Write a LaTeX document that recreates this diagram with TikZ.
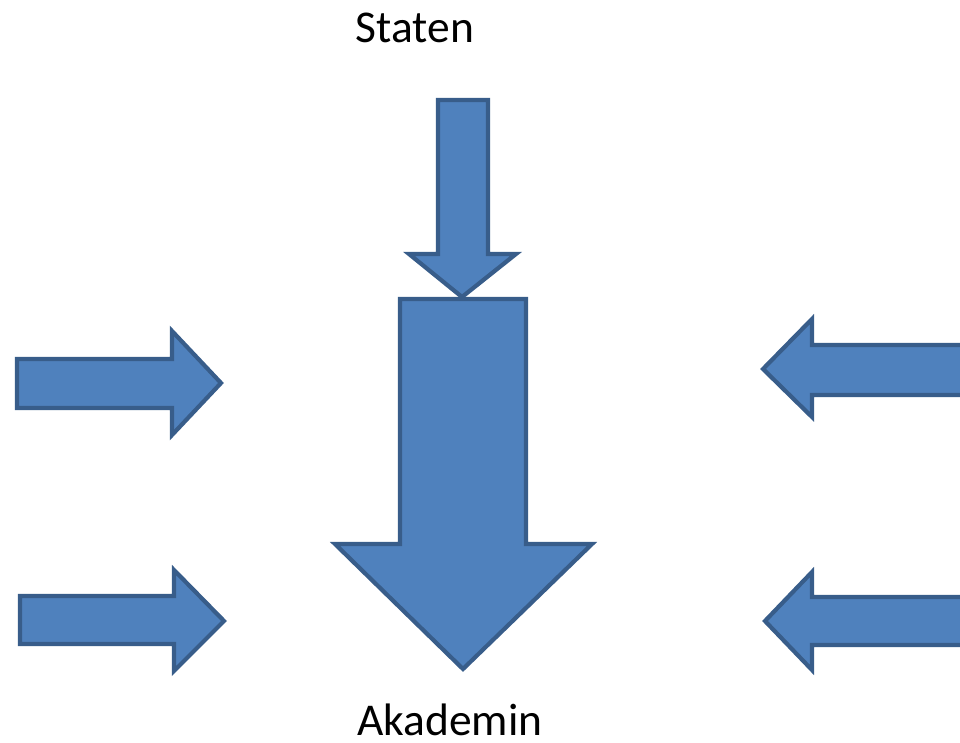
\documentclass[tikz,border=0pt]{standalone}
\usepackage{fontspec}
\setmainfont{Carlito}
\usepackage{tikz}
\usetikzlibrary{positioning}
\definecolor{arrowfill}{HTML}{4F81BD}
\definecolor{arrowline}{HTML}{385D8A}
\tikzset{
  blockarrow/.style={fill=arrowfill, draw=arrowline, line width=4.2pt, line join=miter},
  caption/.style={font=\fontsize{45.5}{50}\selectfont, anchor=base, inner sep=0pt}
}
\begin{document}
\begin{tikzpicture}[x=1pt, y=-1pt]
            \clip (0, 0) rectangle (960, 743);
            \useasboundingbox (0, 0) rectangle (960, 743);
            
            \node[caption] (staten) at (415, 43) {Staten};
            \node[caption] (akademin) at (450, 735) {Akademin};
            
            % small arrow from Staten
            \draw[blockarrow] (438, 100) -- (488, 100) -- (488, 254) -- (516, 254)
                -- (462, 297) -- (409, 254) -- (438, 254) -- cycle;
            % big arrow down to Akademin
            \draw[blockarrow] (400, 299) -- (526, 299) -- (526, 544) -- (592, 544)
                -- (463, 669) -- (335, 544) -- (400, 544) -- cycle;
            
            % arrows from the left
            \draw[blockarrow] (17, 359) -- (172, 359) -- (172, 331) -- (221, 383)
                -- (172, 435) -- (172, 408) -- (17, 408) -- cycle;
            \draw[blockarrow] (20, 596) -- (174, 596) -- (174, 570) -- (224, 621)
                -- (174, 671) -- (174, 644) -- (20, 644) -- cycle;
            
            % arrows from the right
            \draw[blockarrow] (970, 345) -- (812, 345) -- (812, 319) -- (763, 369)
                -- (812, 417) -- (812, 395) -- (970, 395) -- cycle;
            \draw[blockarrow] (970, 597) -- (812, 597) -- (812, 572) -- (765, 621)
                -- (812, 670) -- (812, 645) -- (970, 645) -- cycle;
\end{tikzpicture}
\end{document}
